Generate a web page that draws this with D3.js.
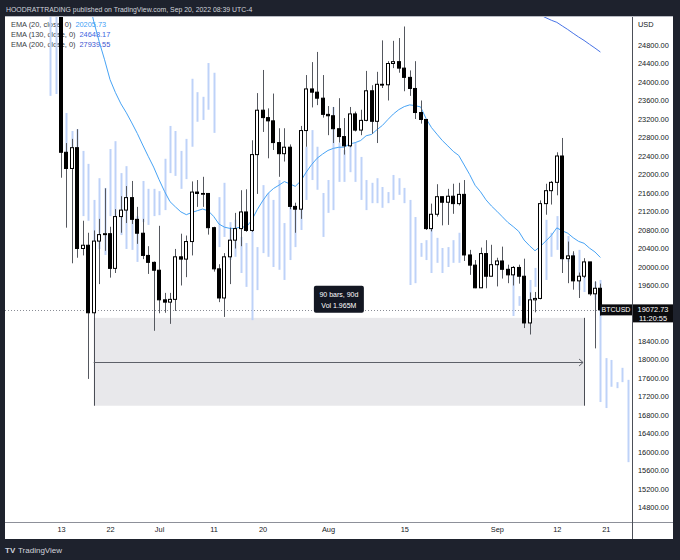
<!DOCTYPE html>
<html>
<head>
<meta charset="utf-8">
<script src="https://cdn.jsdelivr.net/npm/d3@7"></script>
<style>
  body { margin: 0; background: #1e222d; }
  text { font-family: "Liberation Sans", Arial, sans-serif; }
</style>
</head>
<body>
<script>
// daily BTCUSD candles, first one is Jun 13 2022
var startDay = "2022-06-13";
var opens  = [26580,22480,22130,22580,20400,20470,19010,20560,20700,20720,19970,21090,21230,21500,21030,20730,20250,20100,19930,19290,19240,19300,20220,20170,20550,21620,21590,21590,20850,19960,19330,20220,20580,20830,21190,20790,22430,23390,23230,23160,22690,22450,22590,21310,21250,22950,23850,23780,23650,23300,23270,22990,22820,22620,23310,22960,23170,23810,23150,23950,23940,24400,24440,24300,24100,23860,23340,23190,20830,21140,21520,21400,21530,21370,21570,20260,20040,19550,20290,19800,20050,20130,19950,19830,19990,19800,18790,19290,19320,21370,21650,21830,22400,20180,20240,19700,19800,20110,19420,19540];
var highs  = [26880,22680,22770,22980,21000,20740,20790,21040,21700,20870,21250,21530,21750,21860,21300,21040,20450,20120,20890,19440,19440,20390,20720,20680,21850,21880,21950,21600,20870,20060,20300,20850,21170,21660,21680,22740,23760,24260,23430,23750,23000,23000,22650,21390,23050,24150,24430,24650,24150,23480,23460,23650,23220,23460,23360,23400,24240,23930,24220,24900,24450,24890,24950,25200,24250,24450,23600,23200,21370,21790,21520,21690,21800,21820,21880,20370,20150,20420,20580,20480,20200,20440,20050,20020,20050,20180,19450,19460,21440,21800,21860,22480,22790,20550,20340,19880,20190,20110,19690,19640];
var lows   = [21930,20850,20080,20200,20250,17580,17960,19630,20350,19770,19870,20740,20950,20930,20500,20170,19850,18620,19000,19010,18770,19050,19600,19780,20250,21300,21300,20700,19900,19240,18920,19630,20400,20450,20760,20760,21580,22920,22350,22530,21950,22280,21250,20740,21040,22600,23450,23500,23230,22850,22680,22690,22430,22590,22930,22850,23150,22880,22680,23870,23600,24300,24200,23800,23700,23200,23100,20800,20770,21090,20900,20910,21150,21330,20130,19830,19540,19550,19540,19800,19580,19750,19650,19600,19640,18680,18540,19020,19300,21130,21350,21550,19870,19650,19510,19330,19760,19380,18240,18950];
var closes = [22480,22130,22580,20400,20470,19010,20560,20700,20720,19970,21090,21230,21500,21030,20730,20250,20100,19930,19290,19240,19300,20220,20170,20550,21620,21590,21590,20850,19960,19330,20220,20580,20830,21190,20790,22430,23390,23230,23160,22690,22450,22590,21310,21250,22950,23850,23780,23650,23300,23270,22990,22820,22620,23310,22960,23170,23810,23150,23950,23940,24400,24440,24300,24100,23860,23340,23190,20830,21140,21520,21400,21530,21370,21570,20260,20040,19550,20290,19800,20050,20130,19950,19830,19990,19800,18790,19290,19320,21370,21650,21830,22400,20180,20240,19700,19800,20110,19420,19540,19072.73];

// EMA 20, from Jun 16
var ema20Start = "2022-06-16";
var ema20 = [27169,26531,25815,25315,24876,24480,24051,23769,23527,23334,23115,22888,22637,22395,22160,21887,21635,21413,21299,21192,21131,21178,21217,21253,21215,21096,20928,20861,20834,20834,20868,20861,21010,21237,21427,21592,21697,21769,21847,21796,21744,21859,22049,22214,22351,22441,22520,22565,22589,22592,22660,22689,22735,22837,22867,22970,23062,23189,23308,23402,23468,23505,23489,23461,23211,23014,22872,22732,22618,22499,22411,22206,22000,21767,21626,21452,21319,21206,21086,20966,20873,20771,20582,20459,20351,20448,20562,20683,20846,20783,20731,20633,20554,20512,20408,20325,20206];
// EMA 130, only the end is inside the chart
var ema130Start = "2022-09-08";
var ema130 = [25510,25447,25389,25335,25290,25212,25136,25053,24973,24899,24815,24734,24648];

// projected bars pattern (light blue), from Jun 11, null = hidden
var ghostStart = "2022-06-11";
var ghostHigh = [25900,26000,null,23330,22940,22980,22510,22230,21450,21920,21710,22550,22720,22030,22180,21250,21100,21860,21690,21690,21640,22340,23050,22940,22510,22770,24070,23780,23680,24410,24200,21510,21820,20970,21020,20650,20520,20870,20430,21770,21600,21450,21880,20950,21670,21300,22100,22600,22960,22600,21600,21880,23460,22680,22530,22700,22680,22380,21880,21820,21920,21730,21620,21990,21920,21710,21450,21080,20520,20580,20870,20630,20410,20430,20580,20740,null,null,null,null,null,null,null,null,null,19980,19370,19610,19720,19980,20370,21020,20740,21100,20910,20670,20300,20370,20110,19940,19680,19720,18030,17990,17510,17820,17560];
var ghostLow  = [23700,23740,null,22250,22120,21670,21100,21000,20370,20390,20260,21100,20930,20690,20390,20370,20110,20970,20910,21100,21120,21230,22030,21970,21690,21900,22600,23140,23180,23400,22900,20430,20650,20150,20220,19870,19570,18850,19500,20300,20220,20000,19940,19720,20150,20430,20800,21450,21880,21670,20650,21170,21230,21840,21840,22050,21840,21450,21230,21380,21380,21280,21380,21450,21560,21380,19610,19650,20220,20150,19870,20090,19870,20000,20090,20090,null,null,null,null,null,null,null,null,null,18940,19160,18960,19290,19570,19500,19720,20220,20370,20150,20110,19720,19500,19460,19440,19290,17080,16950,17410,17380,17510,15780];

var priceTicks = [24800,24400,24000,23600,23200,22800,22400,22000,21600,21200,20800,20400,20000,19600,19200,18800,18400,18000,17600,17200,16800,16400,16000,15600,15200,14800];
var timeTicks = ["2022-06-13","2022-06-22","2022-07-01","2022-07-11","2022-07-20","2022-08-01","2022-08-15","2022-09-01","2022-09-12","2022-09-21"];
var timeLabels = ["13","22","Jul","11","20","Aug","15","Sep","12","21"];

var legendNames = ["EMA (20, close, 0)", "EMA (130, close, 0)", "EMA (200, close, 0)"];
var legendValues = ["20205.73", "24648.17", "27939.55"];

// date range drawing
var rangeStart = "2022-06-19", rangeEnd = "2022-09-17";
var rangeTop = 18900, rangeBottom = 17000;
var rangeText = ["90 bars, 90d", "Vol 1.965M"];

var width = 680, height = 560;
var parse = d3.utcParse("%Y-%m-%d");
var day0 = parse(startDay);
var ms = 864e5;

var x = d3.scaleUtc()
    .domain([new Date(+day0 - 10.28 * ms), new Date(+day0 + 104.8 * ms)])
    .range([5, 632]);
var y = d3.scaleLinear().domain([14486, 25427]).range([522, 16]);

var candles = opens.map(function(o, i) {
  return { date: d3.utcDay.offset(day0, i), o: o, h: highs[i], l: lows[i], c: closes[i] };
});
var g0 = parse(ghostStart);
var ghosts = ghostHigh.map(function(h, i) {
  return { date: d3.utcDay.offset(g0, i), h: h, l: ghostLow[i] };
}).filter(function(d) { return d.h != null; });
var e20 = ema20.map(function(v, i) { return { date: d3.utcDay.offset(parse(ema20Start), i), v: v }; });
var e130 = ema130.map(function(v, i) { return { date: d3.utcDay.offset(parse(ema130Start), i), v: v }; });

var svg = d3.select("body").append("svg")
    .attr("width", width)
    .attr("height", height)
    .style("display", "block");

svg.append("rect").attr("width", width).attr("height", height).attr("fill", "#1e222d");

svg.append("text")
    .attr("x", 6).attr("y", 12)
    .attr("fill", "#d1d4dc")
    .style("font-size", "6.9px")
    .text("HOODRATTRADING published on TradingView.com, Sep 20, 2022 08:39 UTC-4");

// white panel
svg.append("rect").attr("x", 5).attr("y", 16).attr("width", 668).attr("height", 523).attr("fill", "#fff");

svg.append("defs").append("clipPath").attr("id", "clip")
  .append("rect").attr("x", 5).attr("y", 16).attr("width", 627).attr("height", 506);

// legend (under the bars)
var legend = svg.append("g").attr("class", "legend");
legendNames.forEach(function(n, i) {
  var t = legend.append("text")
      .attr("x", 11).attr("y", 27 + i * 9.8)
      .style("font-size", "7.4px")
      .attr("fill", "#3a3d45");
  t.append("tspan").text(n);
  t.append("tspan").attr("dx", 4).attr("fill", ["#3fa0f5", "#3d64e0", "#3c54cf"][i]).text(legendValues[i]);
});

var chart = svg.append("g").attr("clip-path", "url(#clip)");

// date range box
var rx0 = x(parse(rangeStart)), rx1 = x(parse(rangeEnd));
var ry0 = y(rangeTop), ry1 = y(rangeBottom);
chart.append("rect")
    .attr("x", rx0).attr("y", ry0)
    .attr("width", rx1 - rx0).attr("height", ry1 - ry0)
    .attr("fill", "#e8e8eb");

// last price dotted line
var lastY = Math.round(y(closes[closes.length - 1])) + 0.5;
chart.append("line")
    .attr("x1", 5).attr("x2", 632)
    .attr("y1", lastY).attr("y2", lastY)
    .attr("stroke", "#8a8d96")
    .attr("stroke-dasharray", "1,2");

// ghost bars
chart.selectAll(".ghost")
    .data(ghosts)
  .enter().append("line")
    .attr("class", "ghost")
    .attr("x1", function(d) { return Math.round(x(d.date)) + 0.5; })
    .attr("x2", function(d) { return Math.round(x(d.date)) + 0.5; })
    .attr("y1", function(d) { return y(d.h); })
    .attr("y2", function(d) { return y(d.l); })
    .attr("stroke", "#bed2f8")
    .attr("stroke-width", 2);

// EMAs
var line = d3.line()
    .x(function(d) { return x(d.date); })
    .y(function(d) { return y(d.v); });
chart.append("path").datum(e20).attr("d", line)
    .attr("fill", "none").attr("stroke", "#47a3f5").attr("stroke-width", 1);
chart.append("path").datum(e130).attr("d", line)
    .attr("fill", "none").attr("stroke", "#4773e6").attr("stroke-width", 1);

// candles
var cg = chart.selectAll(".candle")
    .data(candles)
  .enter().append("g")
    .attr("class", "candle");
cg.append("line")
    .attr("x1", function(d) { return Math.round(x(d.date)) + 0.5; })
    .attr("x2", function(d) { return Math.round(x(d.date)) + 0.5; })
    .attr("y1", function(d) { return y(d.h); })
    .attr("y2", function(d) { return y(d.l); })
    .attr("stroke", "#55585f");
cg.append("rect")
    .attr("x", function(d) { return Math.round(x(d.date)) - 1.5; })
    .attr("width", 3)
    .attr("y", function(d) { return y(Math.max(d.o, d.c)); })
    .attr("height", function(d) { return Math.max(0.8, y(Math.min(d.o, d.c)) - y(Math.max(d.o, d.c))); })
    .attr("fill", function(d) { return d.c >= d.o ? "#fff" : "#000"; })
    .attr("stroke", "#000")
    .attr("stroke-width", 1);

// date range edges and arrow
var ymid = Math.round((ry0 + ry1) / 2) + 0.5;
chart.append("line")
    .attr("x1", Math.round(rx0) + 0.5).attr("x2", Math.round(rx0) + 0.5)
    .attr("y1", ry0).attr("y2", ry1).attr("stroke", "#4a4d55");
chart.append("line")
    .attr("x1", Math.round(rx1) + 0.5).attr("x2", Math.round(rx1) + 0.5)
    .attr("y1", ry0).attr("y2", ry1).attr("stroke", "#4a4d55");
chart.append("line")
    .attr("x1", rx0).attr("x2", rx1 - 1)
    .attr("y1", ymid).attr("y2", ymid)
    .attr("stroke", "#5d6068").attr("stroke-width", 1.2);
chart.append("path")
    .attr("d", "M" + (rx1 - 5) + "," + (ymid - 3.5) + "L" + (rx1 - 1) + "," + ymid + "L" + (rx1 - 5) + "," + (ymid + 3.5))
    .attr("fill", "none").attr("stroke", "#5d6068").attr("stroke-width", 1);

// range label
var lx = (rx0 + rx1) / 2;
chart.append("rect")
    .attr("x", lx - 25).attr("y", ry0 - 32)
    .attr("width", 50).attr("height", 27)
    .attr("rx", 2)
    .attr("fill", "#131722");
rangeText.forEach(function(t, i) {
  chart.append("text")
      .attr("x", lx).attr("y", ry0 - 21 + i * 11.5)
      .attr("text-anchor", "middle")
      .attr("fill", "#fff")
      .style("font-size", "7px")
      .text(t);
});

// price axis (labels under the last price box are left out, it covers them)
var lastPrice = closes[closes.length - 1];
var yAxis = d3.axisRight(y)
    .tickValues(priceTicks.filter(function(p) { return Math.abs(y(p) - y(lastPrice) - 4) > 10; }))
    .tickFormat(d3.format(".2f"))
    .tickSize(0)
    .tickPadding(6);
var ya = svg.append("g")
    .attr("transform", "translate(632,0)")
    .call(yAxis);
ya.select(".domain").remove();
ya.selectAll("text").attr("fill", "#131722").style("font-size", "7.4px").attr("font-family", null);
svg.append("text").attr("x", 638).attr("y", 27).attr("fill", "#131722").style("font-size", "7.4px").text("USD");

// time axis
var xAxis = d3.axisBottom(x)
    .tickValues(timeTicks.map(parse))
    .tickFormat(function(d, i) { return timeLabels[i]; })
    .tickSize(0)
    .tickPadding(5);
var xa = svg.append("g")
    .attr("transform", "translate(0,522)")
    .call(xAxis);
xa.select(".domain").remove();
xa.selectAll("text").attr("fill", "#131722").style("font-size", "7.4px").attr("font-family", null);

// panel lines
svg.append("line").attr("x1", 5).attr("x2", 673).attr("y1", 522.5).attr("y2", 522.5).attr("stroke", "#8d9099");
svg.append("line").attr("x1", 632.5).attr("x2", 632.5).attr("y1", 16).attr("y2", 539).attr("stroke", "#4c4f58");
svg.append("line").attr("x1", 5).attr("x2", 673).attr("y1", 16.5).attr("y2", 16.5).attr("stroke", "#b8bbc3");

// symbol and last price labels
var ly = y(lastPrice);
svg.append("rect").attr("x", 600).attr("y", ly - 5.5).attr("width", 32).attr("height", 11).attr("fill", "#0b0b0e");
svg.append("text").attr("x", 616).attr("y", ly + 2.6).attr("text-anchor", "middle")
    .attr("fill", "#fff").style("font-size", "7px").text("BTCUSD");
svg.append("rect").attr("x", 633).attr("y", ly - 5.5).attr("width", 40).attr("height", 18).attr("fill", "#0b0b0e");
svg.append("text").attr("x", 653).attr("y", ly + 2.6).attr("text-anchor", "middle")
    .attr("fill", "#fff").style("font-size", "7.4px").text(d3.format(".2f")(lastPrice));
svg.append("text").attr("x", 653).attr("y", ly + 11).attr("text-anchor", "middle")
    .attr("fill", "#fff").style("font-size", "7.4px").text("11:20:55");

// footer logo
svg.append("text").attr("x", 5).attr("y", 553)
    .attr("fill", "#d1d4dc").style("font-size", "8px").style("font-weight", "bold").text("TV");
svg.append("text").attr("x", 18).attr("y", 553)
    .attr("fill", "#d1d4dc").style("font-size", "8px").text("TradingView");
</script>
</body>
</html>
